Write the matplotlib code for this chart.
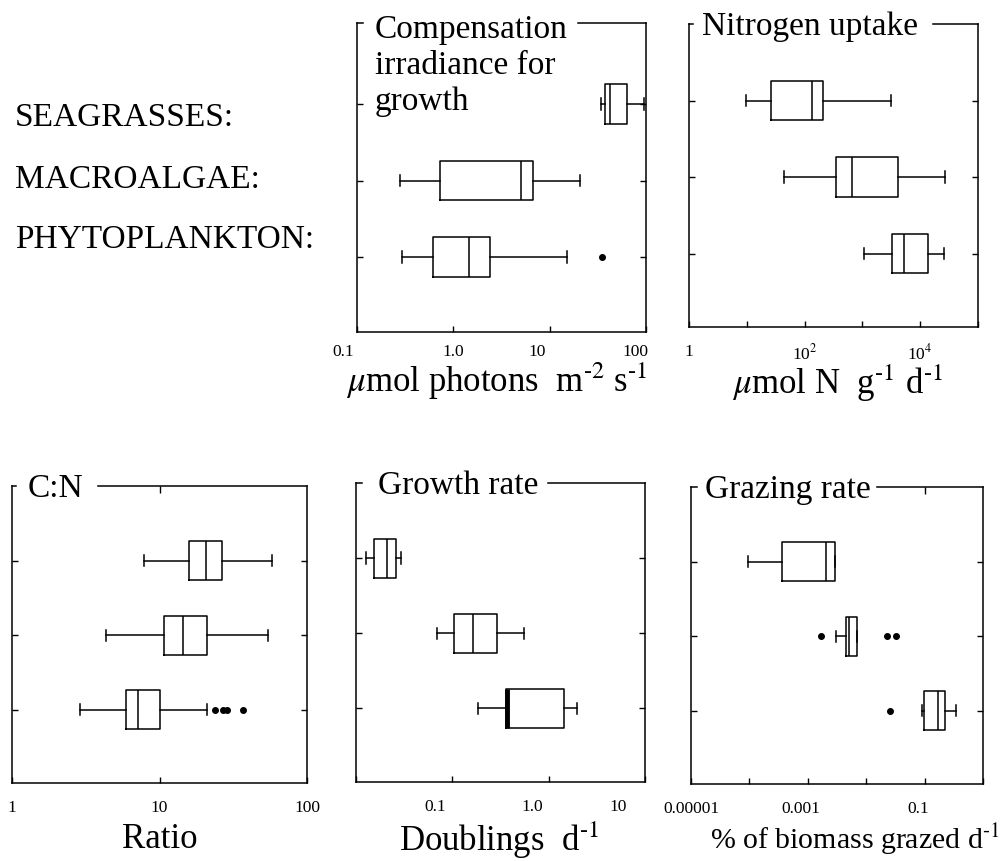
import matplotlib
matplotlib.use("Agg")
import matplotlib.pyplot as plt
from matplotlib.transforms import ScaledTranslation

plt.rcParams['font.family'] = ['Liberation Serif', 'DejaVu Serif']
plt.rcParams['mathtext.fontset'] = 'stix'

# ---------------- data (order: phytoplankton, macroalgae, seagrasses) ----------------
groups = ["PHYTOPLANKTON:", "MACROALGAE:", "SEAGRASSES:"]
group_pos = [1, 2, 3]

# Compensation irradiance for growth (umol photons m-2 s-1)
irr_whislo = [0.29, 0.28, 34.0]
irr_q1 = [0.61, 0.73, 37.5]
irr_med = [1.46, 5.1, 42.0]
irr_q3 = [2.43, 6.7, 64.0]
irr_whishi = [15.0, 20.7, 95.0]
irr_fliers = [[35.0], [], []]

# Nitrogen uptake (umol N g-1 d-1)
nup_whislo = [1070, 44, 9.5]
nup_q1 = [3300, 344, 26]
nup_med = [5260, 670, 132]
nup_q3 = [13900, 4080, 205]
nup_whishi = [25300, 27000, 3150]
nup_fliers = [[], [], []]

# C:N ratio
cn_whislo = [2.9, 4.33, 7.8]
cn_q1 = [5.9, 10.7, 15.9]
cn_med = [7.1, 14.5, 20.6]
cn_q3 = [10.0, 20.9, 26.5]
cn_whishi = [21.0, 54.0, 57.8]
cn_fliers = [[23.8, 26.9, 28.9, 37.1], [], []]

# Growth rate (doublings d-1)
gr_whislo = [0.186, 0.070, 0.0127]
gr_q1 = [0.359, 0.105, 0.0155]
gr_med = [0.372, 0.165, 0.0208]
gr_q3 = [1.46, 0.293, 0.0258]
gr_whishi = [1.96, 0.556, 0.0291]
gr_fliers = [[], [], []]

# Grazing rate (% of biomass grazed d-1)
gz_whislo = [0.089, 0.0031, 0.000093]
gz_q1 = [0.098, 0.00447, 0.00036]
gz_med = [0.17, 0.0051, 0.00206]
gz_q3 = [0.22, 0.0070, 0.0029]
gz_whishi = [0.35, 0.0070, 0.0029]
gz_fliers = [[0.0255], [0.00167, 0.023, 0.032], []]

# tick labels
irr_ticks = [0.1, 1, 10, 100]
irr_ticklabels = ["0.1", "1.0", "10", "100"]
nup_ticks = [1, 10, 100, 1e3, 1e4, 1e5]
nup_ticklabels = ["1", "", "10$^{2}$", "", "10$^{4}$", ""]
cn_ticks = [1, 10, 100]
cn_ticklabels = ["1", "10", "100"]
gr_ticks = [0.01, 0.1, 1, 10]
gr_ticklabels = ["", "0.1", "1.0", "10"]
gz_ticks = [1e-5, 1e-4, 1e-3, 1e-2, 1e-1, 1]
gz_ticklabels = ["0.00001", "", "0.001", "", "0.1", ""]

W, H = 1005, 861
fig = plt.figure(figsize=(W / 100, H / 100), dpi=100)
fig.patch.set_facecolor('white')


def rect_px(l, r, t, b):
    return [l / W, 1 - b / H, (r - l) / W, (b - t) / H]


LW = 1.1


def panel(rect, lo, q1, med, q3, hi, fl, xlim, ylim, ticks, ticklabels,
          title, tx, stub, gap, xlabel, lxy, pad, top_ticks=None,
          title_off=-11, label_dx=None, xlabel_size=25):
    ax = fig.add_axes(rect)
    ax.set_xscale('log')
    stats = []
    for a, b, c, d, e, f in zip(lo, q1, med, q3, hi, fl):
        stats.append(dict(whislo=a, q1=b, med=c, q3=d, whishi=e, fliers=f))
    art = ax.bxp(stats, positions=group_pos, widths=0.52,
                 orientation='horizontal', manage_ticks=False,
                 capwidths=0.15,
                 boxprops=dict(color='k', lw=LW),
                 whiskerprops=dict(color='k', lw=LW),
                 capprops=dict(color='k', lw=LW),
                 medianprops=dict(color='k', lw=LW),
                 flierprops=dict(marker='o', markerfacecolor='k',
                                 markeredgecolor='k', markersize=4))
    ax.set_xlim(*xlim)
    ax.set_ylim(*ylim)
    ax.set_xticks(ticks, ticklabels)
    ax.xaxis.set_minor_locator(matplotlib.ticker.NullLocator())
    ax.set_yticks(group_pos, [])
    ax.tick_params(axis='x', direction='in', length=4, width=1,
                   labelsize=12.5, pad=pad, bottom=True, top=False)
    ax.tick_params(axis='y', direction='in', length=4, width=1,
                   left=True, right=True)
    if label_dx:
        for lbl, dx in zip(ax.get_xticklabels(), label_dx):
            lbl.set_transform(lbl.get_transform() +
                              ScaledTranslation(dx / 100, 0,
                                                fig.dpi_scale_trans))
    for s in ['left', 'right', 'bottom']:
        ax.spines[s].set_linewidth(LW)
    ax.spines['top'].set_visible(False)
    ax.plot([0, stub], [1, 1], transform=ax.transAxes, color='k', lw=LW,
            clip_on=False)
    ax.plot([gap, 1], [1, 1], transform=ax.transAxes, color='k', lw=LW,
            clip_on=False)
    ax.annotate(title, xy=(tx, 1), xycoords='axes fraction',
                xytext=(0, title_off), textcoords='offset pixels',
                ha='left', va='baseline', fontsize=24, linespacing=1.23)
    if top_ticks:
        sec = ax.secondary_xaxis('top')
        sec.set_xticks(top_ticks, [""] * len(top_ticks))
        sec.xaxis.set_minor_locator(matplotlib.ticker.NullLocator())
        sec.tick_params(axis='x', direction='in', length=5, width=1)
        sec.spines['top'].set_visible(False)
    ax.set_xlabel(xlabel, fontsize=xlabel_size, va='center')
    ax.xaxis.set_label_coords(*lxy)
    return ax, art


# top row
panel(rect_px(357, 646, 23, 332), irr_whislo, irr_q1, irr_med, irr_q3,
      irr_whishi, irr_fliers, (0.1, 100), (0.02, 4.06), irr_ticks,
      irr_ticklabels, "Compensation\nirradiance for\ngrowth", 0.062, 0.02,
      0.765, r"$\mu$mol photons  m$^{\text{-2}}$ s$^{\text{-1}}$",
      (0.484, -0.158), 9, title_off=-87, label_dx=[-14, 0, -13, -11])

panel(rect_px(689, 978, 24, 327), nup_whislo, nup_q1, nup_med, nup_q3,
      nup_whishi, nup_fliers, (1, 1e5), (0.04, 4.0), nup_ticks,
      nup_ticklabels, "Nitrogen uptake", 0.044, 0.013, 0.844,
      r"$\mu$mol N  g$^{\text{-1}}$ d$^{\text{-1}}$",
      (0.515, -0.185), 12)

# bottom row
panel(rect_px(12, 307, 486, 783), cn_whislo, cn_q1, cn_med, cn_q3,
      cn_whishi, cn_fliers, (1, 100), (0.02, 4.0), cn_ticks,
      cn_ticklabels, "C:N", 0.053, 0.013, 0.291, "Ratio",
      (0.502, -0.19), 12, top_ticks=[10])

ax_g, art_g = panel(rect_px(356, 645, 483, 782), gr_whislo, gr_q1, gr_med,
                    gr_q3, gr_whishi, gr_fliers, (0.01, 10), (0.02, 4.0),
                    gr_ticks, gr_ticklabels, "Growth rate", 0.076, 0.02,
                    0.664, r"Doublings  d$^{\text{-1}}$",
                    (0.495, -0.195), 12, label_dx=[0, -17, -16, -27])
art_g['medians'][0].set_linewidth(3.5)

panel(rect_px(691, 983, 487, 784), gz_whislo, gz_q1, gz_med, gz_q3,
      gz_whishi, gz_fliers, (1e-5, 1), (0.02, 4.0), gz_ticks,
      gz_ticklabels, "Grazing rate", 0.049, 0.02, 0.636,
      r"% of biomass grazed d$^{\text{-1}}$",
      (0.56, -0.188), 12, top_ticks=[0.1], label_dx=[0, 0, -7, 0, -6, 0],
      xlabel_size=21.5)

# group labels
for name, ypx in zip(groups, [240, 179.5, 117.5]):
    fig.text(15 / W, 1 - ypx / H, name, ha='left', va='center', fontsize=24)

fig.savefig("out.png", dpi=100, facecolor='white')
